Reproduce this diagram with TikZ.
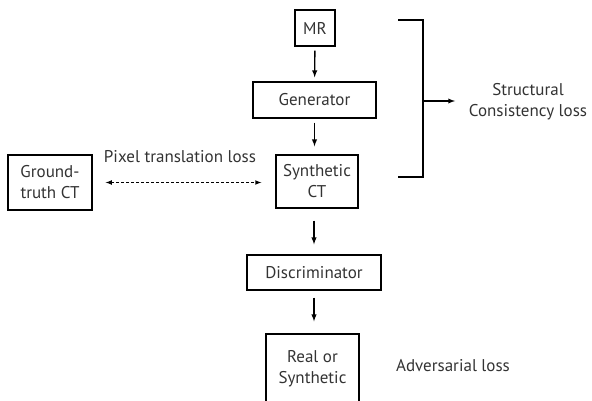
\documentclass[tikz,border=0pt]{standalone}
\usepackage{fontspec}
\setmainfont{PT Sans}
\usepackage{tikz}
\usetikzlibrary{shapes,arrows,positioning,calc}

\tikzset{
    blockbox/.style={draw, line width=1.3pt, inner sep=0pt, align=center, text=black!80, font=\fontsize{17}{21}\selectfont},
    losstext/.style={align=center, font=\fontsize{17}{21}\selectfont, text=black!80},
    flowarrow/.style={->, >=latex, line width=1.4pt, shorten <=4pt, shorten >=4pt}
}

\begin{document}
\begin{tikzpicture}[x=1pt, y=-1pt]
\useasboundingbox (0,0) rectangle (592,401);
\clip (0,0) rectangle (592,401);

% Generator branch
\node[blockbox, minimum width=40pt, minimum height=36pt] (mr) at (315,28) {MR};
\node[blockbox, minimum width=123pt, minimum height=36pt] (gen) at (314.5,100) {Generator};
\node[blockbox, minimum width=82pt, minimum height=53pt] (syn) at (317,181.5) {Synthetic\\CT};

% Discriminator branch
\node[blockbox, minimum width=134pt, minimum height=35pt] (disc) at (314,272.5) {Discriminator};
\node[blockbox, minimum width=93pt, minimum height=70pt] (real) at (312.5,369) {Real or\\Synthetic};

% Ground truth
\node[blockbox, minimum width=84pt, minimum height=55pt] (gt) at (50,182.5) {Ground-\\truth CT};

% Arrows down the chain
\draw[flowarrow] (mr) -- (gen);
\draw[flowarrow, shorten >=8pt] (gen) -- (gen |- syn.north);
\draw[flowarrow, shorten <=12pt, shorten >=10pt] (syn.south -| disc.north) -- (disc);
\draw[flowarrow, shorten <=7pt, shorten >=12pt] (disc) -- (real.north -| disc.south);

% Pixel translation loss
\draw[<->, >=latex, line width=1.1pt, densely dashed, shorten <=13pt, shorten >=14pt] (gt) -- (gt.east -| syn.west);
\node[losstext] (pix) at (180,157) {Pixel translation loss};

% Bracket for structural consistency
\coordinate (btop) at (398,20);
\coordinate (bbot) at (398,177);
\coordinate (bmid) at (423,101);
\coordinate (bout) at (455,101);
\draw[line width=1.5pt] (btop) -- (btop -| bmid) -- (bbot -| bmid) -- (bbot);
\draw[->, >=latex, line width=1.3pt] (bmid) -- (bout);
\node[losstext] (struct) at (528,102) {Structural\\Consistency loss};

% Adversarial loss
\node[losstext] (adv) at (453,366) {Adversarial loss};

\end{tikzpicture}
\end{document}
